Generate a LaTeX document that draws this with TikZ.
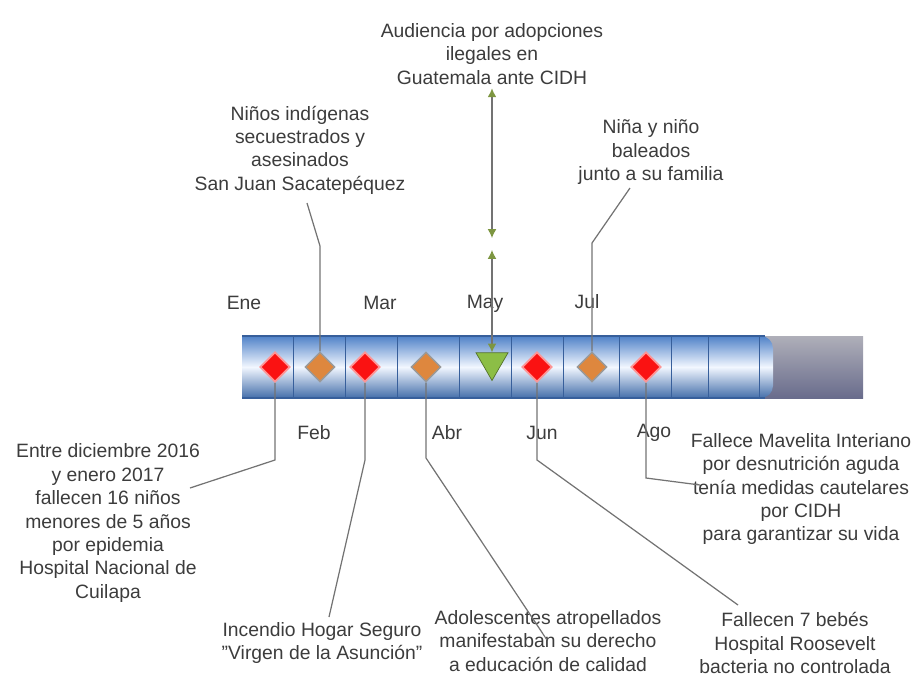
\documentclass[tikz,border=0pt]{standalone}
\usepackage{fontspec}
\setmainfont{Liberation Sans}
\usepackage{tikz}
\usetikzlibrary{shapes.geometric,arrows.meta}
\definecolor{txtgray}{RGB}{60,60,60}
\definecolor{linegray}{RGB}{115,115,115}
\definecolor{bardark}{RGB}{80,130,200}
\definecolor{barlight}{RGB}{242,247,255}
\definecolor{barline}{RGB}{55,95,155}
\definecolor{capdark}{RGB}{105,108,140}
\definecolor{caplight}{RGB}{175,175,185}
\definecolor{evred}{RGB}{250,18,18}
\definecolor{evorange}{RGB}{222,135,62}
\definecolor{evgreen}{RGB}{140,190,70}
\definecolor{arrolive}{RGB}{125,150,65}

\begin{document}
\begin{tikzpicture}[x=0.02cm,y=-0.02cm]
\tikzstyle{evtext}=[align=center,text=txtgray,font=\fontsize{11}{13.3}\selectfont,inner sep=2pt]
\tikzstyle{month}=[text=txtgray,font=\fontsize{11}{13.3}\selectfont]
\tikzstyle{redmark}=[diamond,fill=evred,draw=evred!45,line width=1pt,minimum size=0.6cm,inner sep=0]
\tikzstyle{orangemark}=[diamond,fill=evorange,draw=gray!80,line width=0.8pt,minimum size=0.6cm,inner sep=0]
\tikzstyle{greenmark}=[regular polygon,regular polygon sides=3,shape border rotate=180,fill=evgreen,draw=evgreen!60!black,minimum size=0.74cm,inner sep=0]
\tikzstyle{leader}=[draw=linegray,line width=0.7pt]
\tikzstyle{twoway}=[leader,{Latex[length=5pt,width=5pt,color=arrolive]}-{Latex[length=5pt,width=5pt,color=arrolive]}]
\tikzstyle{barshade}=[top color=bardark,bottom color=bardark!85!black,middle color=barlight]
\useasboundingbox (0,0) rectangle (916,677);
\shade[top color=caplight,bottom color=capdark] (745,336) rectangle (863,398);
\shade[barshade,rounded corners=7pt] (242,336) rectangle (773,398);
\shade[barshade] (242,336) rectangle (300,398);
\draw[barline,line width=0.6pt] (242,336) -- (765,336) (242,398) -- (765,398);
\foreach \xd in {293,345,397,459,511,563,619,671,708,759}
    \draw[barline,line width=0.5pt] (\xd,337) -- (\xd,397);
\node[month] (ene) at (244,303) {Ene};
\node[month] (mar) at (380,303) {Mar};
\node[month] (may) at (485,304) {May};
\node[month] (jul) at (587,302) {Jul};
\node[month] (feb) at (314,433) {Feb};
\node[month] (abr) at (447,433) {Abr};
\node[month] (jun) at (542,433) {Jun};
\node[month] (ago) at (654,433) {Ago};
\node[redmark] (m1) at (275,367) {};
\node[orangemark] (m2) at (320,367) {};
\node[redmark] (m3) at (365,367) {};
\node[orangemark] (m4) at (426,367) {};
\node[greenmark] (m5) at (492,362) {};
\node[redmark] (m6) at (537,367) {};
\node[orangemark] (m7) at (592,367) {};
\node[redmark] (m8) at (646,367) {};
\node[evtext] (aud) at (492,54) {Audiencia por adopciones\\ilegales en\\Guatemala ante CIDH};
\node[evtext] (nin) at (300,150) {Niños indígenas\\secuestrados y\\asesinados\\San Juan Sacatepéquez};
\node[evtext] (bal) at (651,152) {Niña y niño\\baleados\\junto a su familia};
\node[evtext] (epi) at (108,523) {Entre diciembre 2016\\y enero 2017\\fallecen 16 niños\\menores de 5 años\\por epidemia\\Hospital Nacional de\\Cuilapa};
\node[evtext] (inc) at (322,643) {Incendio Hogar Seguro\\{"}Virgen de la Asunción{"}};
\node[evtext] (ado) at (548,641) {Adolescentes atropellados\\manifestaban su derecho\\a educación de calidad};
\node[evtext] (beb) at (795,643) {Fallecen 7 bebés\\Hospital Roosevelt\\bacteria no controlada};
\node[evtext] (mav) at (801,489) {Fallece Mavelita Interiano\\por desnutrición aguda\\tenía medidas cautelares\\por CIDH\\para garantizar su vida};
\coordinate (c1) at (275,460);
\coordinate (e1) at (190,488);
\coordinate (c2) at (320,246);
\coordinate (e2) at (307,203);
\coordinate (c3) at (365,460);
\coordinate (e3) at (329,617);
\coordinate (c4) at (426,458);
\coordinate (e4) at (547,640);
\coordinate (c6) at (537,460);
\coordinate (e6) at (738,605);
\coordinate (c7) at (592,243);
\coordinate (e7) at (630,188);
\coordinate (c8) at (646,478);
\coordinate (e8) at (700,485);
\coordinate (ma) at (492,238);
\coordinate (mb) at (492,250);
\draw[leader] (m1.south) -- (c1) -- (e1);
\draw[leader] (m2.north) -- (c2) -- (e2);
\draw[leader] (m3.south) -- (c3) -- (e3);
\draw[leader] (m4.south) -- (c4) -- (e4);
\draw[leader] (m6.south) -- (c6) -- (e6);
\draw[leader] (m7.north) -- (c7) -- (e7);
\draw[leader] (m8.south) -- (c8) -- (e8);
\draw[twoway] (aud.south) -- (ma);
\draw[twoway] (mb) -- (m5.north);
\end{tikzpicture}
\end{document}
